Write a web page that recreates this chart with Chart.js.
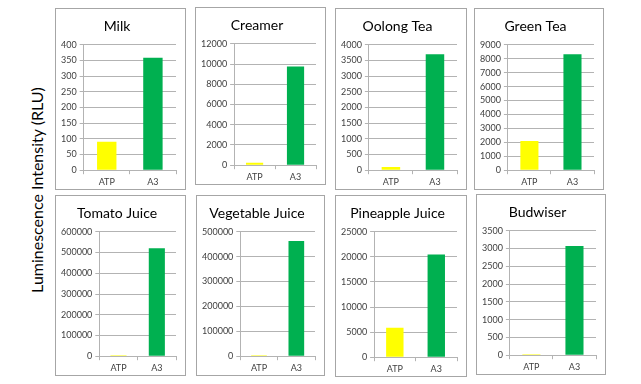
<!DOCTYPE html>
<html>
<head>
<meta charset="utf-8">
<script src="https://cdn.jsdelivr.net/npm/chart.js@4.4.0/dist/chart.umd.min.js"></script>
<style>
  html, body { margin: 0; padding: 0; background: #fff; }
  #wrap { position: relative; width: 641px; height: 384px; overflow: hidden; background: #fff; }
  .panel { position: absolute; box-sizing: border-box; border: 1px solid #a6a6a6; background: #fff; }
  .panel canvas { display: block; }
  .ylab {
    position: absolute; left: 37px; top: 190px; width: 260px; height: 20px;
    margin-left: -130px; margin-top: -10px; text-align: center; line-height: 20px;
    transform: rotate(-90deg); font-family: Lato, "Open Sans", sans-serif; font-size: 16px; color: #000;
    white-space: nowrap;
  }
</style>
</head>
<body>
<div id="wrap">
  <div class="ylab">Luminescence Intensity (RLU)</div>
</div>
<script>
// values
const titles = ['Milk', 'Creamer', 'Oolong Tea', 'Green Tea', 'Tomato Juice', 'Vegetable Juice', 'Pineapple Juice', 'Budwiser'];
const categories = ['ATP', 'A3'];
const atpValues = [91, 230, 100, 2100, 5000, 4000, 5880, 25];
const a3Values = [359, 9750, 3697, 8320, 521000, 463500, 20470, 3075];
const axisMax = [400, 12000, 4000, 9000, 600000, 500000, 25000, 3500];
const axisStep = [50, 2000, 500, 1000, 100000, 100000, 5000, 500];

// panel boxes: left, top, width, height
const boxes = [
    [55, 8, 131, 182], [195, 7, 131, 178], [335, 8, 132, 182], [474, 8, 130, 182],
    [55, 195, 131, 181], [196, 195, 129, 181], [335, 195, 132, 182], [476, 194, 130, 181]
];

const FONT = 'Lato, "Open Sans", sans-serif';
const GRID = '#b3b3b3';
const TICK = '#404040';
const barColors = ['#ffff00', '#00b050'];

function makePanel(i) {
    const wrap = document.getElementById('wrap');
    const div = document.createElement('div');
    div.className = 'panel';
    const [l, t, w, h] = boxes[i];
    div.style.left = l + 'px';
    div.style.top = t + 'px';
    div.style.width = w + 'px';
    div.style.height = h + 'px';
    const canvas = document.createElement('canvas');
    div.appendChild(canvas);
    wrap.appendChild(div);

    new Chart(canvas, {
        type: 'bar',
        data: {
            labels: categories,
            datasets: [{
                data: [atpValues[i], a3Values[i]],
                backgroundColor: barColors,
                borderWidth: 0,
                barPercentage: 0.42,
                categoryPercentage: 1
            }]
        },
        options: {
            responsive: true,
            maintainAspectRatio: false,
            animation: false,
            layout: { padding: { left: 2, right: 9, top: 0, bottom: 0 } },
            plugins: {
                legend: { display: false },
                tooltip: { enabled: false },
                title: {
                    display: true,
                    text: titles[i],
                    color: '#000',
                    font: { family: FONT, size: 14, weight: 'normal' },
                    padding: { top: 9, bottom: 10 }
                }
            },
            scales: {
                x: {
                    ticks: { color: TICK, font: { family: FONT, size: 9 }, padding: 2 },
                    grid: { offset: true, drawOnChartArea: false, tickLength: 4, color: GRID },
                    border: { color: GRID }
                },
                y: {
                    min: 0,
                    max: axisMax[i],
                    ticks: {
                        stepSize: axisStep[i],
                        autoSkip: false,
                        color: TICK,
                        font: { family: FONT, size: 9 },
                        padding: 3,
                        callback: v => String(v)
                    },
                    grid: { color: GRID, tickLength: 4 },
                    border: { color: GRID }
                }
            }
        }
    });
}

for (let i = 0; i < titles.length; i++) makePanel(i);
</script>
</body>
</html>
